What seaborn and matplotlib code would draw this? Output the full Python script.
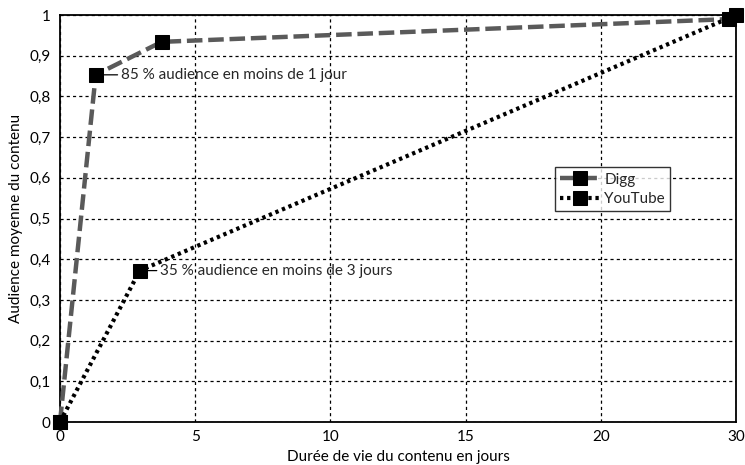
import matplotlib
matplotlib.use("Agg")
import matplotlib.pyplot as plt
import seaborn as sns
import numpy as np
import pandas as pd

digg_x = [0, 1.32, 3.76, 29.5]
digg_y = [0, 0.853, 0.934, 0.99]
yt_x = [0, 2.95, 30]
yt_y = [0, 0.372, 1.0]
x_ticks = [0, 5, 10, 15, 20, 30]
y_ticks = [0, 0.1, 0.2, 0.3, 0.4, 0.5, 0.6, 0.7, 0.8, 0.9, 1]
ann_digg = "85 % audience en moins de 1 jour"
ann_yt = "35 % audience en moins de 3 jours"

sns.set_theme(style="white")
plt.rcParams['font.family'] = ['Lato', 'DejaVu Sans']

fig = plt.figure(figsize=(7.45, 4.65), dpi=100)
ax = fig.add_axes([60/745, 1-422/465, (736-60)/745, (422-15)/465])

def fwd(x):
    x = np.asarray(x, dtype=float)
    return np.where(x <= 20, x, 20 + (x - 20) / 2)

def inv(x):
    x = np.asarray(x, dtype=float)
    return np.where(x <= 20, x, 20 + (x - 20) * 2)

ax.set_xscale('function', functions=(fwd, inv))

df_d = pd.DataFrame({"x": digg_x, "y": digg_y})
df_y = pd.DataFrame({"x": yt_x, "y": yt_y})

sns.lineplot(data=df_d, x="x", y="y", ax=ax, color="#5a5a5a", lw=3.2,
             marker="s", markersize=10, markerfacecolor="black",
             markeredgecolor="black", label="Digg", sort=False,
             dashes=False, zorder=3, clip_on=False)
ax.lines[-1].set_dashes([3.5, 1.3])
sns.lineplot(data=df_y, x="x", y="y", ax=ax, color="black", lw=3.0,
             marker="s", markersize=10, markerfacecolor="black",
             markeredgecolor="black", label="YouTube", sort=False,
             dashes=False, zorder=3, clip_on=False)
ax.lines[-1].set_dashes([0.8, 0.9])

ax.set_xlim(0, 30)
ax.set_ylim(0, 1)
ax.set_xticks(x_ticks)
ax.set_xticklabels([str(t) for t in x_ticks])
ax.set_yticks(y_ticks)
ax.set_yticklabels(["0" if t == 0 else ("1" if t == 1 else f"{t:.1f}".replace(".", ",")) for t in y_ticks])
ax.tick_params(axis='x', labelsize=11, length=0, pad=6, colors='black')
ax.tick_params(axis='y', labelsize=11, length=0, pad=7, colors='black')

ax.grid(True, color='black', linestyle=(0, (2.5, 2.5)), linewidth=0.9)
for s in ax.spines.values():
    s.set_color('black')
    s.set_linewidth(1.3)
ax.set_axisbelow(True)

ax.set_xlabel("Durée de vie du contenu en jours", fontsize=11, labelpad=4, color='black')
ax.set_ylabel("Audience moyenne du contenu", fontsize=11, labelpad=4, color='black')

ax.annotate(ann_digg, xy=(digg_x[1], digg_y[1]), xytext=(2.25, digg_y[1]),
            va='center', ha='left', fontsize=11,
            arrowprops=dict(arrowstyle='-', color='black', lw=0.9, shrinkA=0, shrinkB=3))
ax.annotate(ann_yt, xy=(yt_x[1], yt_y[1]), xytext=(3.7, yt_y[1]),
            va='center', ha='left', fontsize=11,
            arrowprops=dict(arrowstyle='-', color='black', lw=0.9, shrinkA=0, shrinkB=3))

leg = ax.legend(loc='upper left', bbox_to_anchor=(0.732, 0.626), borderaxespad=0,
                frameon=True, fancybox=False, edgecolor='black', fontsize=11,
                handlelength=2.6, handletextpad=0.3, borderpad=0.35, labelspacing=0.35)
leg.get_frame().set_linewidth(1.0)

fig.savefig("out.png", dpi=100)
